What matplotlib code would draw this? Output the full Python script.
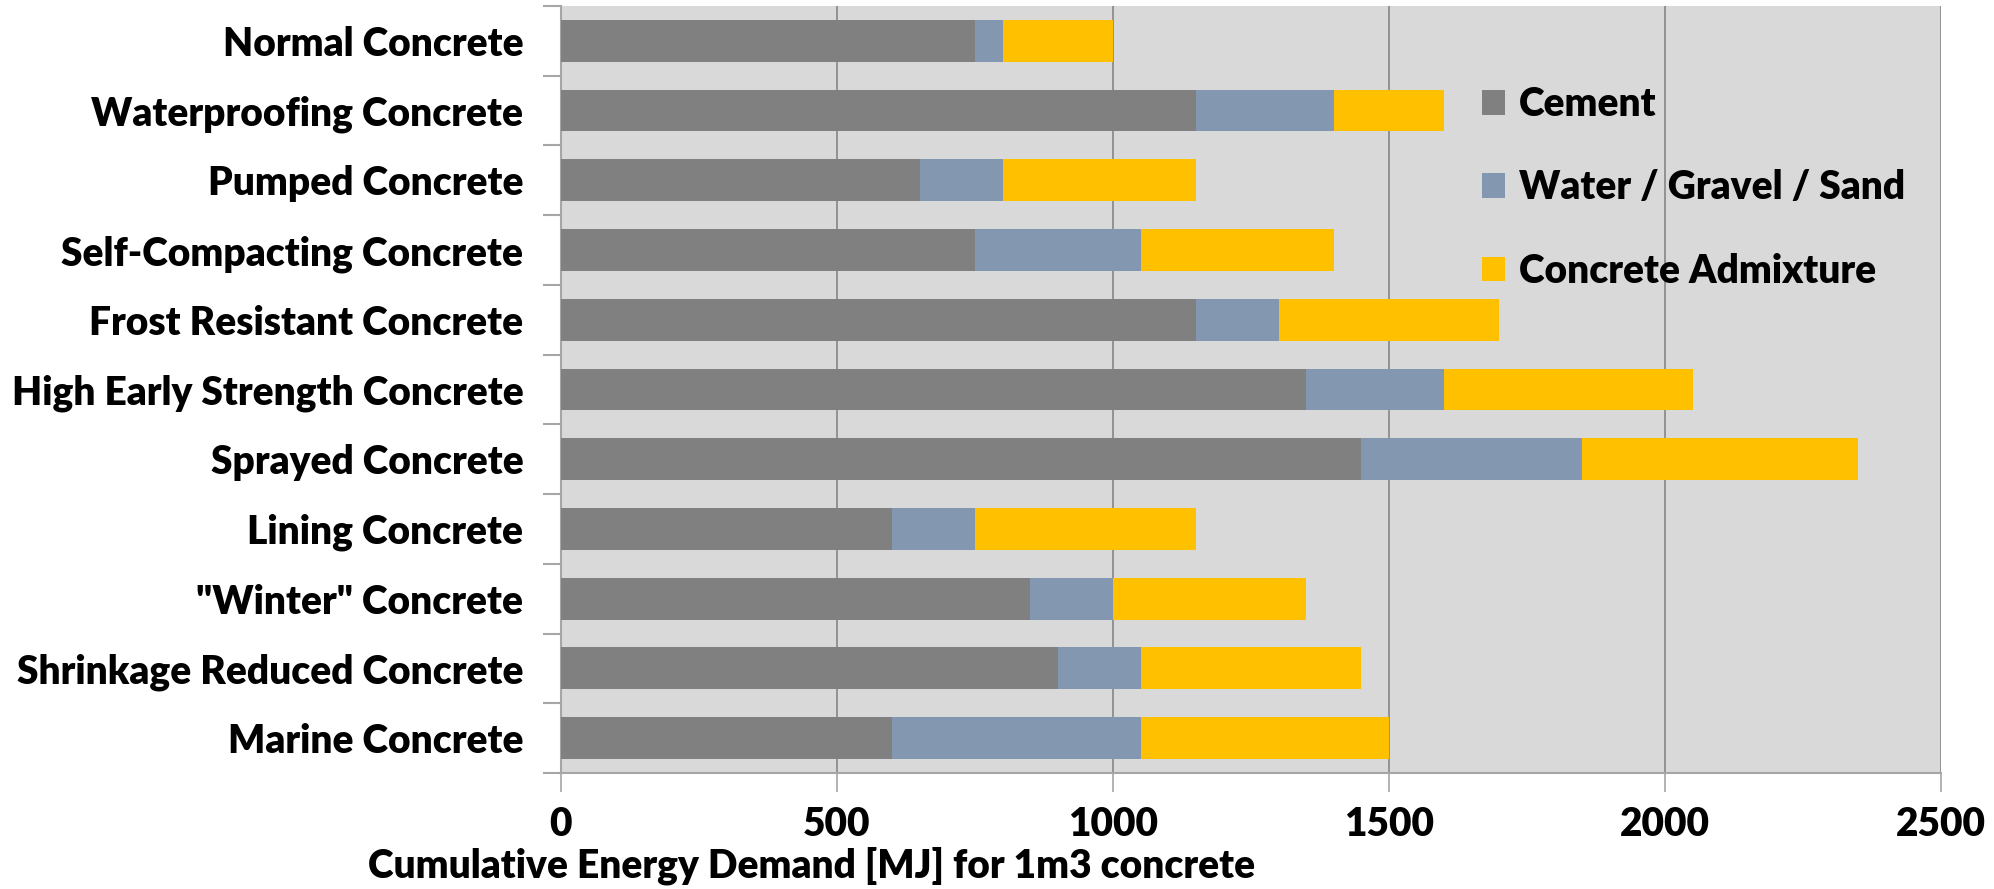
import matplotlib.pyplot as plt
from matplotlib.patches import Patch
from matplotlib.ticker import FixedLocator
import numpy as np

categories = ['Normal Concrete', 'Waterproofing Concrete', 'Pumped Concrete',
              'Self-Compacting Concrete', 'Frost Resistant Concrete',
              'High Early Strength Concrete', 'Sprayed Concrete', 'Lining Concrete',
              '"Winter" Concrete', 'Shrinkage Reduced Concrete', 'Marine Concrete']
cement = [750, 1150, 650, 750, 1150, 1350, 1450, 600, 850, 900, 600]
water_gravel_sand = [50, 250, 150, 300, 150, 250, 400, 150, 150, 150, 450]
admixture = [200, 200, 350, 350, 400, 450, 500, 400, 350, 400, 450]
series_names = ['Cement', 'Water / Gravel / Sand', 'Concrete Admixture']
colors = ['#808080', '#8497B0', '#FFC000']
xticks = [0, 500, 1000, 1500, 2000, 2500]

plt.rcParams['font.family'] = ['Lato', 'DejaVu Sans']
plt.rcParams['font.weight'] = 'heavy'
fs = 28

fig = plt.figure(figsize=(19.94, 8.89), dpi=100)
ax = fig.add_axes([0.2813, 0.1305, 0.6921, 0.8628])
ax.set_facecolor('#D9D9D9')

# stacked horizontal bars, one segment per component
y = np.arange(len(categories))
left = np.zeros(len(categories))
for vals, c in zip([cement, water_gravel_sand, admixture], colors):
    ax.barh(y, vals, left=left, height=0.6, color=c, zorder=3)
    left += np.array(vals)

ax.set_xlim(0, 2500)
ax.set_ylim(len(categories) - 0.5, -0.5)
ax.set_xticks(xticks)
ax.set_yticks(y)
ax.set_yticklabels(categories)
ax.yaxis.set_minor_locator(FixedLocator(np.arange(-0.5, len(categories), 1)))
ax.tick_params(axis='y', which='major', length=0, pad=27, labelsize=fs)
ax.tick_params(axis='y', which='minor', length=13, width=1.5, color='#A6A6A6')
ax.tick_params(axis='x', length=14, width=1.2, color='#A6A6A6', pad=10, labelsize=fs)

ax.grid(axis='x', color='#8C8C8C', linewidth=1.3, zorder=1)
ax.set_axisbelow(True)
for s in ['top', 'right']:
    ax.spines[s].set_visible(False)
for s in ['left', 'bottom']:
    ax.spines[s].set_color('#A6A6A6')
    ax.spines[s].set_linewidth(1.5)

fig.text(0.4072, 0.004, 'Cumulative Energy Demand [MJ] for 1m3 concrete',
         ha='center', va='bottom', fontsize=fs, fontweight='heavy')

handles = [Patch(facecolor=c, label=n) for c, n in zip(colors, series_names)]
ax.legend(handles=handles, loc='upper left', bbox_to_anchor=(0.642, 0.941),
          frameon=False, fontsize=fs, handlelength=0.6, handleheight=0.6,
          handletextpad=0.35, labelspacing=1.19)

fig.savefig('out.png', dpi=100)
